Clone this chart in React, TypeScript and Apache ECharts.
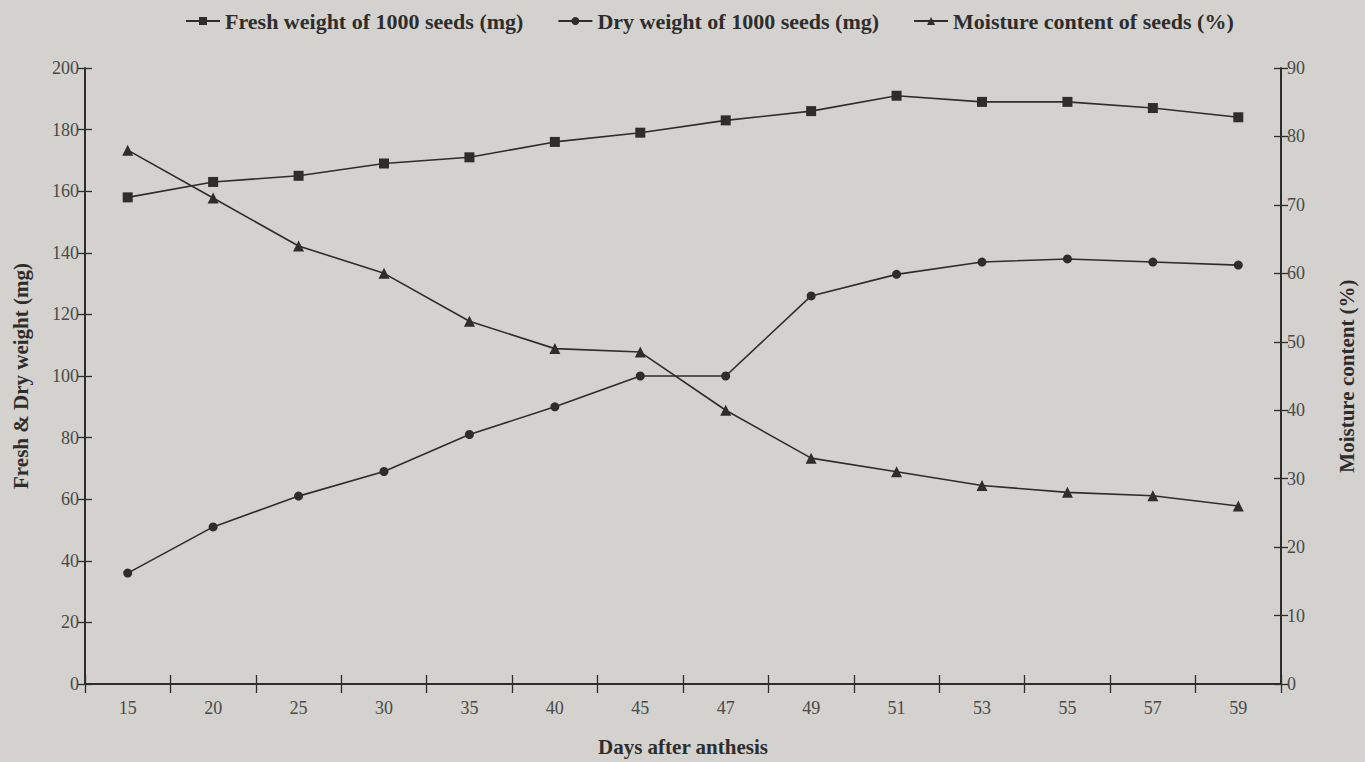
import React, { useEffect, useRef } from "react";
import * as echarts from "echarts";

const days = ["15", "20", "25", "30", "35", "40", "45", "47", "49", "51", "53", "55", "57", "59"];
const freshWeight = [158, 163, 165, 169, 171, 176, 179, 183, 186, 191, 189, 189, 187, 184];
const dryWeight = [36, 51, 61, 69, 81, 90, 100, 100, 126, 133, 137, 138, 137, 136];
const moisture = [78, 71, 64, 60, 53, 49, 48.5, 40, 33, 31, 29, 28, 27.5, 26];

const FONT = "'Liberation Serif', 'DejaVu Serif', serif";
const INK = "#2e2d2c";

export default function App() {
  const ref = useRef<HTMLDivElement>(null);
  useEffect(() => {
    document.body.style.margin = "0";
    const chart = echarts.init(ref.current!, null, { renderer: "svg" });
    const lineStyle = { color: INK, width: 1.6 };
    const itemStyle = { color: INK };
    const tickLabel = { color: "#4a4947", fontFamily: FONT, fontSize: 18 };
    const nameStyle = { fontFamily: FONT, fontWeight: "bold", fontSize: 21, color: INK };
    chart.setOption({
      animation: false,
      backgroundColor: "#d3d2ce",
      textStyle: { fontFamily: FONT },
      legend: {
        top: 5,
        left: 180,
        itemWidth: 34,
        itemHeight: 10,
        itemGap: 34,
        textStyle: { fontFamily: FONT, fontWeight: "bold", fontSize: 22, color: INK },
        data: [
          "Fresh weight of 1000 seeds (mg)",
          "Dry weight of 1000 seeds (mg)",
          "Moisture content of seeds (%)",
        ],
      },
      grid: { left: 85, right: 75, top: 68, bottom: 76 },
      xAxis: [
        {
          type: "category",
          data: days,
          boundaryGap: true,
          name: "Days after anthesis",
          nameLocation: "middle",
          nameGap: 52,
          nameTextStyle: nameStyle,
          axisLine: { lineStyle: { color: INK, width: 2 } },
          axisTick: { show: true, length: 9, lineStyle: { color: INK, width: 1.3 } },
          axisLabel: { ...tickLabel, margin: 15 },
          splitLine: { show: false },
        },
        {
          type: "category",
          data: days,
          position: "bottom",
          boundaryGap: true,
          axisLine: { show: false },
          axisTick: { show: true, inside: true, length: 9, lineStyle: { color: INK, width: 1.3 } },
          axisLabel: { show: false },
          splitLine: { show: false },
        },
      ],
      yAxis: [
        {
          type: "value",
          position: "left",
          min: 0,
          max: 200,
          interval: 20,
          name: "Fresh & Dry weight (mg)",
          nameLocation: "middle",
          nameRotate: 90,
          nameGap: 54,
          nameTextStyle: nameStyle,
          axisLine: { show: true, lineStyle: { color: INK, width: 2 } },
          axisTick: { show: true, length: 7, lineStyle: { color: INK, width: 1.3 } },
          axisLabel: { ...tickLabel, margin: 6 },
          splitLine: { show: false },
        },
        {
          type: "value",
          position: "right",
          min: 0,
          max: 90,
          interval: 10,
          name: "Moisture content (%)",
          nameLocation: "middle",
          nameRotate: 90,
          nameGap: 55,
          nameTextStyle: nameStyle,
          axisLine: { show: true, lineStyle: { color: INK, width: 2 } },
          axisTick: { show: true, length: 7, lineStyle: { color: INK, width: 1.3 } },
          axisLabel: { ...tickLabel, margin: 6 },
          splitLine: { show: false },
        },
        {
          type: "value",
          position: "left",
          min: 0,
          max: 200,
          interval: 20,
          axisLine: { show: false },
          axisTick: { show: true, inside: true, length: 7, lineStyle: { color: INK, width: 1.3 } },
          axisLabel: { show: false },
          splitLine: { show: false },
        },
        {
          type: "value",
          position: "right",
          min: 0,
          max: 90,
          interval: 10,
          axisLine: { show: false },
          axisTick: { show: true, inside: true, length: 7, lineStyle: { color: INK, width: 1.3 } },
          axisLabel: { show: false },
          splitLine: { show: false },
        },
      ],
      series: [
        {
          name: "Fresh weight of 1000 seeds (mg)",
          type: "line",
          yAxisIndex: 0,
          data: freshWeight,
          symbol: "rect",
          symbolSize: 10,
          lineStyle,
          itemStyle,
        },
        {
          name: "Dry weight of 1000 seeds (mg)",
          type: "line",
          yAxisIndex: 0,
          data: dryWeight,
          symbol: "circle",
          symbolSize: 9,
          lineStyle,
          itemStyle,
        },
        {
          name: "Moisture content of seeds (%)",
          type: "line",
          yAxisIndex: 1,
          data: moisture,
          symbol: "triangle",
          symbolSize: 11,
          lineStyle,
          itemStyle,
        },
      ],
    });
    return () => chart.dispose();
  }, []);
  return <div ref={ref} style={{ width: 1365, height: 762, background: "#d3d2ce" }} />;
}
